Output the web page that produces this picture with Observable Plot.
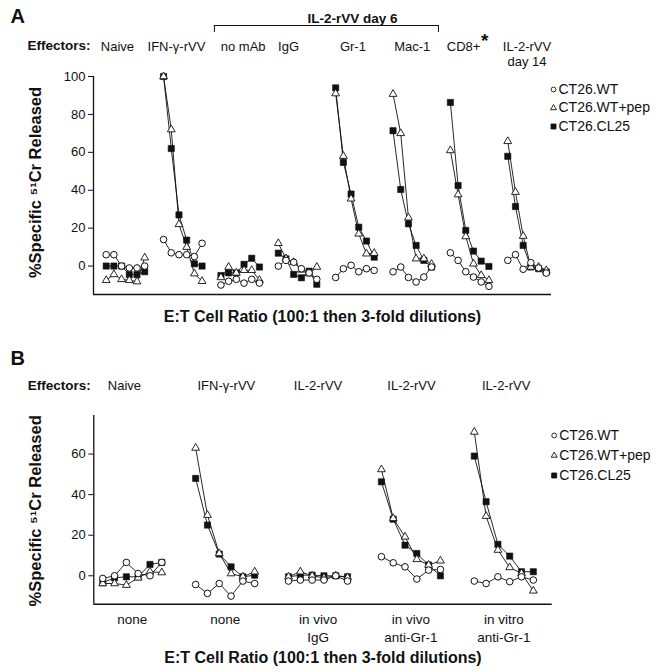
<!DOCTYPE html>
<html><head><meta charset="utf-8">
<script src="https://cdn.jsdelivr.net/npm/d3@7"></script>
<script src="https://cdn.jsdelivr.net/npm/@observablehq/plot@0.6"></script>
<style>
body{margin:0;background:#fff;font-family:"Liberation Sans",Arial,Helvetica,sans-serif}
#chart svg{display:block;overflow:visible}
</style>
</head><body><div id="chart"></div>
<script>
// ---------- data ----------
const series = ["CT26.WT", "CT26.WT+pep", "CT26.CL25"];
const dilutions = ["100:1", "33:1", "11:1", "3.7:1", "1.2:1", "0.4:1"];

// Panel A
const bracketA = "IL-2-rVV day 6";
const effectorsA = ["Naive", "IFN-γ-rVV", "no mAb", "IgG", "Gr-1", "Mac-1", "CD8+", "IL-2-rVV\nday 14"];
const wtA = [
  [6, 6, 0, -1, -1, 0],
  [14, 7, 6, 6, 5, 12],
  [-10, -8, -7, -9, -7, -9],
  [0, 3, 2, -1.4, -3.6, -7],
  [-6, -1.4, 0.4, -3, -1.4, -2.3],
  [-3, -0.5, -6, -8.4, -5.8, -0.5],
  [7, 3, -3, -5.8, -8.4, -10.7],
  [3, 6, -1.7, 1.8, -1, -3.7]
];
const pepA = [
  [-7.5, -4.4, -7, -7.5, -8.2, 4.4],
  [100, 72, 22, 10, -4, -8],
  [-6, -0.5, -3.6, -2.2, -2.2, -7.4],
  [12, 4, 2, -2, -4, -0.5],
  [91, 58, 35.5, 17, 6.5, 6.8],
  [90.7, 70, 25.5, 3.9, 3.9, 1],
  [61, 37.7, 15.6, 1.2, -4.9, -7.5],
  [65.8, 39, 15.8, -0.5, -0.5, -2.3]
];
const cl25A = [
  [0, 0, 0, -4.5, -4.5, -3],
  [100, 62, 27, 13.7, 1.2, 0],
  [-5, -3.6, -3.6, 0.9, 4.1, -0.5],
  [6.8, 3.8, -4.4, -6.2, -2.7, -9.6],
  [94, 54.7, 38, 20.5, 13.2, 4.7],
  [71.4, 40.4, 22.3, 10.9, 3, -0.5],
  [86.3, 42.5, 18.8, 7.9, 2.6, -0.2],
  [57.9, 31.4, 10.9, -0.5, -1.4, -3.1]
];

// Panel B
const effectorsB = ["Naive", "IFN-γ-rVV", "IL-2-rVV", "IL-2-rVV", "IL-2-rVV"];
const treatmentsB = ["none", "none", "in vivo\nIgG", "in vivo\nanti-Gr-1", "in vitro\nanti-Gr-1"];
const wtB = [
  [-1.3, 0, 6.6, 1.1, 0, 6.6],
  [-4.3, -8.7, -3.8, -10, -2.6, -3.8],
  [-2.6, -2.1, -2.1, -2.1, 0, -2.6],
  [9.4, 6.4, 4.4, -1.6, 2.8, 3.1],
  [-2.6, -3.8, -0.5, -2.9, -0.5, -2.1]
];
const pepB = [
  [-3.8, -3.8, -4.6, -1, 2, 1.6],
  [63, 29.9, 11, 1.1, -0.5, 2],
  [-0.5, 2, 0, -1, 0, -0.8],
  [52.4, 28.3, 19.2, 8.1, 5.3, 7.4],
  [70.9, 29.4, 12.7, 4.1, 1.2, -7.4]
];
const cl25B = [
  [-3.4, -1, -0.5, -0.5, 5.6, 6.6],
  [48, 25, 10.7, 4.4, -0.5, 0.3],
  [-0.5, 0.3, 0.3, 0, 0, -0.5],
  [46.3, 27.9, 15.1, 11, 5.3, 0],
  [59, 36.5, 15.5, 9.7, 2, 2]
];

const yTitle = "%Specific \u2075\u00b9Cr Released";
const xTitle = "E:T Cell Ratio (100:1 then 3-fold dilutions)";

// ---------- helpers ----------
const FONT = '"Liberation Sans", Arial, Helvetica, sans-serif';
const INK = "#111";

function build(wt, pep, cl, gap) {
  const rows = [];
  [wt, pep, cl].forEach((arr, si) =>
    arr.forEach((vals, g) =>
      vals.forEach((v, d) => rows.push({series: series[si], group: g, dil: dilutions[d], x: g * gap + d, y: v}))));
  return rows;
}

function dataMarks(rows) {
  return [
    Plot.line(rows, {x: "x", y: "y", z: d => d.series + "|" + d.group, stroke: INK, strokeWidth: 0.9}),
    Plot.dot(rows.filter(d => d.series === series[2]), {x: "x", y: "y", symbol: "square", r: 3.5, fill: INK, stroke: INK, strokeWidth: 0.6}),
    Plot.dot(rows.filter(d => d.series === series[1]), {x: "x", y: "y", symbol: "triangle", r: 2.9, fill: "white", stroke: INK, strokeWidth: 0.9}),
    Plot.dot(rows.filter(d => d.series === series[0]), {x: "x", y: "y", symbol: "circle", r: 3.3, fill: "white", stroke: INK, strokeWidth: 1})
  ];
}

function legendMarks(dy0, step) {
  const syms = ["circle", "triangle", "square"];
  const fills = ["white", "white", INK];
  const rs = [2.4, 2.2, 2.8];
  const out = [];
  series.forEach((s, i) => {
    out.push(Plot.dot([s], {frameAnchor: "top-right", dx: 2, dy: dy0 + i * step, symbol: syms[i], r: rs[i], fill: fills[i], stroke: INK, strokeWidth: 0.9}));
    out.push(Plot.text([s], {frameAnchor: "top-right", textAnchor: "start", lineAnchor: "middle", dx: 7, dy: dy0 + i * step, fontSize: 14, fill: INK}));
  });
  return out;
}

// ---------- Panel A ----------
const gapA = 7.45;
const rowsA = build(wtA, pepA, cl25A, gapA);
const xDomA = [-1.65, 57.83];
const yDomA = [-15, 100];
const nudgeA = [-1.04, -0.83, 0.39, -1.17, -0.26, 0, -0.78, 0]; // label placement tweaks (layout)
const groupsA = effectorsA.map((label, g) => ({label, x: g * gapA + 2.5 + nudgeA[g]}));
const bL = 2 * gapA - 0.85, bR = 5 * gapA + 5 + 0.9;

const plotA = Plot.plot({
  width: 657, height: 335,
  marginLeft: 93, marginRight: 106, marginTop: 76, marginBottom: 41,
  style: {fontFamily: FONT, color: INK, background: "white", overflow: "visible"},
  x: {domain: xDomA, axis: null},
  y: {domain: yDomA, axis: null},
  marks: [
    Plot.axisY({ticks: [0, 20, 40, 60, 80, 100], tickSize: 5, tickPadding: 3, fontSize: 13, label: null, stroke: INK}),
    Plot.ruleX([xDomA[0]], {y1: yDomA[0], y2: yDomA[1], stroke: INK, strokeWidth: 1.3}),
    Plot.ruleY([yDomA[0]], {x1: xDomA[0], x2: xDomA[1], stroke: INK, strokeWidth: 1.5}),
    ...dataMarks(rowsA),
    Plot.text(["A"], {frameAnchor: "top-left", textAnchor: "start", lineAnchor: "top", dx: -83, dy: -68, fontSize: 20, fontWeight: "bold"}),
    Plot.ruleY([yDomA[1]], {x1: bL, x2: bR, dy: -51, stroke: INK, strokeWidth: 1}),
    Plot.ruleX([bL, bR], {y1: yDomA[1], y2: yDomA[1] - 3.7, dy: -51, stroke: INK, strokeWidth: 1}),
    Plot.text([bracketA], {x: [(bL + bR) / 2], frameAnchor: "top", lineAnchor: "top", dx: 26, dy: -63, fontSize: 13.5, fontWeight: "bold"}),
    Plot.text(["Effectors:"], {frameAnchor: "top-left", textAnchor: "end", lineAnchor: "top", dx: -3, dy: -36, fontSize: 13.5, fontWeight: "bold"}),
    Plot.text(groupsA, {x: "x", text: "label", frameAnchor: "top", lineAnchor: "top", dy: -36, fontSize: 13, lineHeight: 1.15}),
    Plot.text(["*"], {x: [groupsA[6].x], frameAnchor: "top", lineAnchor: "top", dx: 21, dy: -43, fontSize: 19, fontWeight: "bold"}),
    Plot.text([yTitle], {frameAnchor: "left", textAnchor: "middle", lineAnchor: "middle", rotate: -90, dx: -58, dy: -3, fontSize: 16.5, fontWeight: "bold"}),
    Plot.text([xTitle], {frameAnchor: "bottom", lineAnchor: "middle", dy: 22, fontSize: 16, fontWeight: "bold"}),
    ...legendMarks(13, 18.5)
  ]
});

// ---------- Panel B ----------
const gapB = 7.87;
const rowsB = build(wtB, pepB, cl25B, gapB);
const xDomB = [-0.76, 38.08];
const yDomB = [-14, 79];
const nudgeB = [-0.66, 0.1, 0, 0.05, 0.2]; // label placement tweaks (layout)
const groupsB = effectorsB.map((label, g) => ({label, treat: treatmentsB[g], x: g * gapB + 2.5, xl: g * gapB + 2.5 + nudgeB[g]}));

const plotB = Plot.plot({
  width: 657, height: 337,
  marginLeft: 93.3, marginRight: 105.3, marginTop: 80, marginBottom: 68.3,
  style: {fontFamily: FONT, color: INK, background: "white", overflow: "visible"},
  x: {domain: xDomB, axis: null},
  y: {domain: yDomB, axis: null},
  marks: [
    Plot.axisY({ticks: [0, 20, 40, 60], tickSize: 5, tickPadding: 3, fontSize: 13, label: null, stroke: INK}),
    Plot.ruleX([xDomB[0]], {y1: yDomB[0], y2: yDomB[1], stroke: INK, strokeWidth: 1.3}),
    Plot.ruleY([yDomB[0]], {x1: xDomB[0], x2: xDomB[1], stroke: INK, strokeWidth: 1.5}),
    ...dataMarks(rowsB),
    Plot.text(["B"], {frameAnchor: "top-left", textAnchor: "start", lineAnchor: "top", dx: -83.3, dy: -65, fontSize: 20, fontWeight: "bold"}),
    Plot.text(["Effectors:"], {frameAnchor: "top-left", textAnchor: "end", lineAnchor: "top", dx: -3, dy: -35, fontSize: 13.5, fontWeight: "bold"}),
    Plot.text(groupsB, {x: "xl", text: "label", frameAnchor: "top", lineAnchor: "top", dy: -35, fontSize: 13}),
    Plot.text(groupsB, {x: "x", text: "treat", frameAnchor: "bottom", lineAnchor: "top", dy: 7.3, fontSize: 13.5, lineHeight: 1.3}),
    Plot.text([yTitle], {frameAnchor: "left", textAnchor: "middle", lineAnchor: "middle", rotate: -90, dx: -58.3, dy: 1, fontSize: 16.5, fontWeight: "bold"}),
    Plot.text([xTitle], {frameAnchor: "bottom", lineAnchor: "middle", dy: 53.3, fontSize: 16, fontWeight: "bold"}),
    ...legendMarks(20, 20)
  ]
});

document.getElementById("chart").append(plotA, plotB);
</script>
</body></html>
